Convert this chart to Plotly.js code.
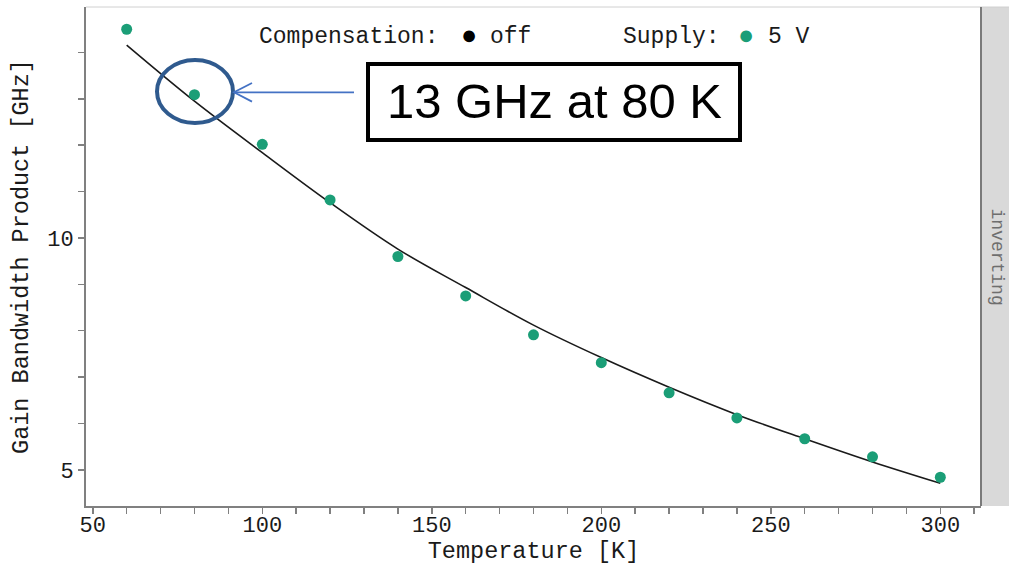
<!DOCTYPE html>
<html>
<head>
<meta charset="utf-8">
<script src="https://cdn.plot.ly/plotly-3.0.1.min.js"></script>
<style>html,body{margin:0;padding:0;background:#fff;}#chart{width:1009px;height:565px;}</style>
</head>
<body>
<div id="chart"></div>
<script>
// Data
const temperature = [60, 80, 100, 120, 140, 160, 180, 200, 220, 240, 260, 280, 300];
const gbpMeasured = [14.50, 13.09, 12.02, 10.82, 9.60, 8.75, 7.91, 7.31, 6.66, 6.12, 5.67, 5.28, 4.84];
const gbpFit      = [14.16, 12.95, 11.84, 10.76, 9.76, 8.93, 8.12, 7.42, 6.78, 6.19, 5.67, 5.17, 4.71];
const xTickVals = [50, 100, 150, 200, 250, 300];
const yTickVals = [5, 10];
const stripLabel = "inverting";
const calloutText = "13 GHz at 80 K";

const L = 86, R = 981, T = 7, B = 506, W = 1009, H = 565;
const px = x => (x - L) / (R - L);
const py = y => (B - y) / (B - T);
const mono = "Liberation Mono, Courier New, monospace";
const green = "#1b9e77";
const axisGrey = "#808080";
const txt = "#1a1a1a";

const traces = [
  {x: temperature, y: gbpFit, type: "scatter", mode: "lines",
   line: {color: "#1a1a1a", width: 1.6, shape: "spline"}, hoverinfo: "skip"},
  {x: temperature, y: gbpMeasured, type: "scatter", mode: "markers",
   marker: {color: green, size: 11, line: {width: 0}}}
];

function legendText(x, y, s, anchor, size, color) {
  return {xref: "paper", yref: "paper", x: px(x), y: py(y), xanchor: anchor, yanchor: "middle",
          showarrow: false, text: s, font: {family: mono, size: size, color: color}};
}

const layout = {
  width: W, height: H,
  margin: {l: L, r: W - R, t: T, b: H - B, pad: 0},
  paper_bgcolor: "#fff", plot_bgcolor: "#fff",
  showlegend: false,
  font: {family: mono, color: txt},
  xaxis: {
    range: [48, 312], showgrid: false, zeroline: false,
    showline: true, linecolor: axisGrey, linewidth: 2,
    tickvals: xTickVals, ticks: "outside", ticklen: 6, tickwidth: 1.5, tickcolor: axisGrey,
    ticklabelstandoff: -8,
    tickfont: {family: mono, size: 22, color: txt},
    minor: {dtick: 10, tick0: 0, ticks: "outside", ticklen: 6, tickwidth: 1.5, tickcolor: axisGrey, showgrid: false},
    title: {text: "Temperature [K]", font: {family: mono, size: 23.5, color: txt}, standoff: 4}
  },
  yaxis: {
    range: [4.22, 14.98], showgrid: false, zeroline: false,
    showline: true, linecolor: axisGrey, linewidth: 2,
    tickvals: yTickVals, ticks: "outside", ticklen: 6, tickwidth: 1.5, tickcolor: axisGrey,
    tickfont: {family: mono, size: 22, color: txt},
    minor: {dtick: 1, tick0: 0, ticks: "outside", ticklen: 6, tickwidth: 1.5, tickcolor: axisGrey, showgrid: false},
    title: {text: "Gain Bandwidth Product [GHz]", font: {family: mono, size: 23.5, color: txt}, standoff: 12}
  },
  shapes: [
    // strip
    {type: "rect", xref: "paper", yref: "paper", x0: 1, x1: px(W + 2), y0: 0, y1: 1,
     fillcolor: "#d9d9d9", line: {width: 0}, layer: "below"},
    {type: "line", xref: "paper", yref: "paper", x0: 0, x1: px(W + 2), y0: 1, y1: 1,
     line: {color: "#d0d0d0", width: 1}},
    {type: "line", xref: "paper", yref: "paper", x0: 1, x1: 1, y0: 0, y1: 1,
     line: {color: "#7a7a7a", width: 2}},
    // callout ellipse
    {type: "circle", xref: "paper", yref: "paper", x0: px(157), x1: px(233), y0: py(123), y1: py(60),
     line: {color: "#2f5a8e", width: 4}},
    // arrow
    {type: "line", xref: "paper", yref: "paper", x0: px(234), x1: px(354), y0: py(92.3), y1: py(92.3),
     line: {color: "#4472c4", width: 1.8}},
    {type: "path", xref: "paper", yref: "paper",
     path: `M ${px(252)} ${py(83)} L ${px(234)} ${py(92.3)} L ${px(252)} ${py(101.6)}`,
     line: {color: "#4472c4", width: 1.8}},
    // callout box
    {type: "rect", xref: "paper", yref: "paper", x0: px(368), x1: px(740), y0: py(140), y1: py(64),
     fillcolor: "#ffffff", line: {color: "#000", width: 4}}
  ],
  annotations: [
    legendText(257, 37, "Compensation:", "left", 23, txt),
    legendText(469, 37, "●", "center", 27, "#000"),
    legendText(488, 37, "off", "left", 23, txt),
    legendText(621, 37, "Supply:", "left", 23, txt),
    legendText(746, 37, "●", "center", 27, green),
    legendText(766, 37, "5 V", "left", 23, txt),
    {xref: "paper", yref: "paper", x: px(997), y: 0.5, xanchor: "center", yanchor: "middle", showarrow: false,
     textangle: 90, text: stripLabel, font: {family: mono, size: 18, color: "#6e6e6e"}},
    {xref: "paper", yref: "paper", x: px(554), y: py(101), xanchor: "center", yanchor: "middle", showarrow: false,
     text: calloutText, font: {family: "Liberation Sans, Arial, sans-serif", size: 49, color: "#000"}}
  ]
};

Plotly.newPlot("chart", traces, layout, {displayModeBar: false, staticPlot: true});
</script>
</body>
</html>
